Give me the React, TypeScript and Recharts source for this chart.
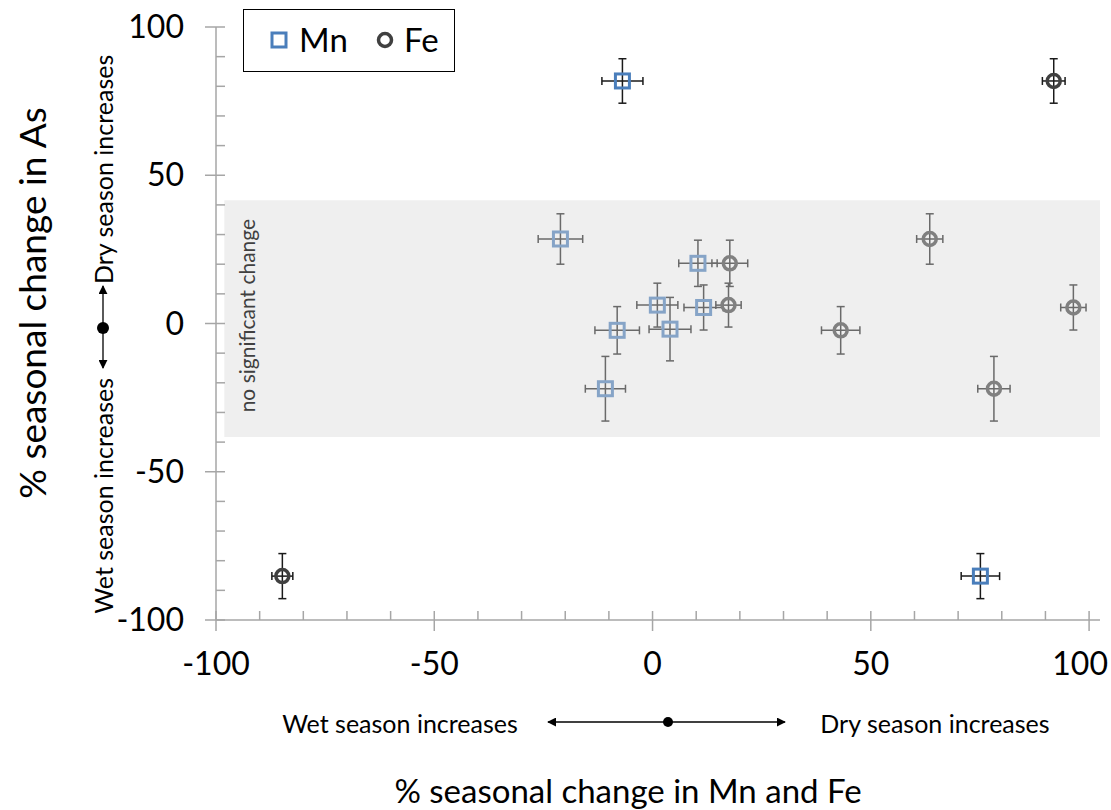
import React from 'react';
import { ScatterChart, Scatter, XAxis, YAxis, ErrorBar, ReferenceArea, Legend } from 'recharts';

// % seasonal change in As (shared by Mn and Fe points of each well)
const asChange = [81.8, 28.5, 20.3, 6.2, -2.3, 5.4, -22.0, -85.2, -1.9];
const asErr = [7.5, 8.5, 7.8, 7.4, 8.0, 7.6, 10.9, 7.6, 10.7];
const mnChange = [-6.9, -21.1, 10.4, 1.1, -8.1, 11.7, -10.8, 75.1, 4.0];
const mnErr = [4.7, 5.1, 4.4, 4.7, 5.1, 4.5, 4.6, 4.4, 4.8];
const feChange = [91.9, 63.5, 17.7, 17.4, 43.1, 96.4, 78.2, -84.8];
const feErr = [2.6, 3.0, 4.1, 2.9, 4.4, 2.9, 3.7, 2.4];

const xTicks = [-100, -90, -80, -70, -60, -50, -40, -30, -20, -10, 0, 10, 20, 30, 40, 50, 60, 70, 80, 90, 100];
const yTicks = xTicks;
const band = { x1: -98.1, x2: 102.5, y1: -38.3, y2: 41.6 };

const FONT = 'Lato, "Open Sans", sans-serif';
const MN = '#4a7ebb';
const FE = '#404040';
const AXIS = '#a6a6a6';

const mnData = mnChange.map((x, i) => ({ x, y: asChange[i], ex: mnErr[i], ey: asErr[i] }));
const feData = feChange.map((x, i) => ({ x, y: asChange[i], ex: feErr[i], ey: asErr[i] }));

const Square = (p: any) => (
  <rect x={p.cx - 7} y={p.cy - 7} width={14} height={14} fill="none" stroke={MN} strokeWidth={3} />
);
const Ring = (p: any) => <circle cx={p.cx} cy={p.cy} r={6.5} fill="none" stroke={FE} strokeWidth={3.5} />;

const XTick = ({ x, y, payload }: any) => {
  const major = payload.value % 50 === 0;
  const last = payload.value === 100;
  return (
    <g>
      <line x1={x} x2={x} y1={y - 9} y2={major ? y + 11 : y} stroke={AXIS} strokeWidth={1.5} />
      {major && (
        <text
          x={last ? 1108 : x}
          y={y + 55}
          textAnchor={last ? 'end' : 'middle'}
          fontSize={32}
          fontFamily={FONT}
          fill="#000"
        >
          {payload.value}
        </text>
      )}
    </g>
  );
};

const YTick = ({ x, y, payload }: any) => {
  const major = payload.value % 50 === 0;
  return (
    <g>
      <line x1={major ? x - 11 : x} x2={x + 9} y1={y} y2={y} stroke={AXIS} strokeWidth={1.5} />
      {major && (
        <text x={x - 32} y={y + 11} textAnchor="end" fontSize={32} fontFamily={FONT} fill="#000">
          {payload.value}
        </text>
      )}
    </g>
  );
};

const BandLabel = ({ viewBox }: any) => {
  const cx = viewBox.x + 22;
  const cy = viewBox.y + viewBox.height / 2 - 3;
  return (
    <text
      x={cx}
      y={cy}
      transform={`rotate(-90 ${cx} ${cy})`}
      textAnchor="middle"
      dominantBaseline="central"
      fontSize={21}
      fontFamily={FONT}
      fill="#404040"
    >
      no significant change
    </text>
  );
};

const LegendBox = () => (
  <div
    style={{
      width: 212,
      height: 63,
      boxSizing: 'border-box',
      border: '1.5px solid #000',
      background: '#fff',
      position: 'relative',
    }}
  >
    <svg width={212} height={63} style={{ position: 'absolute', left: -1.5, top: -1.5 }}>
      <rect x={29} y={24} width={14} height={14} fill="none" stroke={MN} strokeWidth={3} />
      <text x={56} y={43} fontSize={33} fontFamily={FONT}>Mn</text>
      <circle cx={142} cy={31} r={6.5} fill="none" stroke={FE} strokeWidth={3.5} />
      <text x={161} y={43} fontSize={33} fontFamily={FONT}>Fe</text>
    </svg>
  </div>
);

const Arrow = ({ x1, y1, x2, y2 }: any) => (
  <line x1={x1} y1={y1} x2={x2} y2={y2} stroke="#000" strokeWidth={1.3} markerStart="url(#ah)" markerEnd="url(#ah)" />
);

export default function App() {
  return (
    <div style={{ position: 'absolute', left: 0, top: 0, width: 1111, height: 810, background: '#fff' }}>
      <ScatterChart width={1111} height={810} margin={{ top: 27, right: 11, bottom: 130, left: 156 }}>
        <XAxis
          type="number"
          dataKey="x"
          domain={[-100, 102.5]}
          ticks={xTicks}
          allowDataOverflow
          height={60}
          tickSize={0}
          tickMargin={0}
          tickLine={false}
          tick={<XTick />}
          axisLine={{ stroke: AXIS, strokeWidth: 1.5 }}
          interval={0}
        />
        <YAxis
          type="number"
          dataKey="y"
          domain={[-100, 100]}
          ticks={yTicks}
          width={60}
          tickSize={0}
          tickMargin={0}
          tickLine={false}
          tick={<YTick />}
          axisLine={{ stroke: AXIS, strokeWidth: 1.5 }}
          interval={0}
        />
        <Scatter name="Mn" data={mnData} shape={Square} isAnimationActive={false}>
          <ErrorBar dataKey="ex" direction="x" width={4} stroke="#1a1a1a" strokeWidth={1.5} />
          <ErrorBar dataKey="ey" direction="y" width={4} stroke="#1a1a1a" strokeWidth={1.5} />
        </Scatter>
        <Scatter name="Fe" data={feData} shape={Ring} isAnimationActive={false}>
          <ErrorBar dataKey="ex" direction="x" width={4} stroke="#1a1a1a" strokeWidth={1.5} />
          <ErrorBar dataKey="ey" direction="y" width={4} stroke="#1a1a1a" strokeWidth={1.5} />
        </Scatter>
        <ReferenceArea
          {...band}
          fill="rgb(217,217,217)"
          fillOpacity={0.42}
          stroke="none"
          ifOverflow="visible"
          zIndex={700}
          label={<BandLabel />}
        />
        <Legend
          layout="horizontal"
          verticalAlign="middle"
          align="center"
          content={<LegendBox />}
          wrapperStyle={{ top: 9, left: 243, width: 212, height: 63 }}
        />
      </ScatterChart>
      <svg width={1111} height={810} style={{ position: 'absolute', left: 0, top: 0, pointerEvents: 'none' }}>
        <defs>
          <marker id="ah" viewBox="0 0 10 10" refX="9" refY="5" markerWidth="9" markerHeight="9" orient="auto-start-reverse" markerUnits="userSpaceOnUse">
            <path d="M0,0 L10,5 L0,10 z" fill="#000" />
          </marker>
        </defs>
        <text x={31} y={303} transform="rotate(-90 31 303)" textAnchor="middle" dominantBaseline="central" fontSize={37} fontFamily={FONT}>
          % seasonal change in As
        </text>
        <text x={103} y={378} transform="rotate(-90 103 378)" textAnchor="end" dominantBaseline="central" fontSize={25} fontFamily={FONT}>
          Wet season increases
        </text>
        <text x={103} y={284} transform="rotate(-90 103 284)" textAnchor="start" dominantBaseline="central" fontSize={25} fontFamily={FONT}>
          Dry season increases
        </text>
        <Arrow x1={103} y1={286} x2={103} y2={368} />
        <circle cx={103} cy={328} r={6} fill="#000" />
        <text x={400} y={723} textAnchor="middle" dominantBaseline="central" fontSize={25} fontFamily={FONT}>
          Wet season increases
        </text>
        <text x={935} y={723} textAnchor="middle" dominantBaseline="central" fontSize={25} fontFamily={FONT}>
          Dry season increases
        </text>
        <Arrow x1={548} y1={722} x2={785} y2={722} />
        <circle cx={668} cy={722} r={5} fill="#000" />
        <text x={628} y={790} textAnchor="middle" dominantBaseline="central" fontSize={33} fontFamily={FONT}>
          % seasonal change in Mn and Fe
        </text>
      </svg>
    </div>
  );
}
